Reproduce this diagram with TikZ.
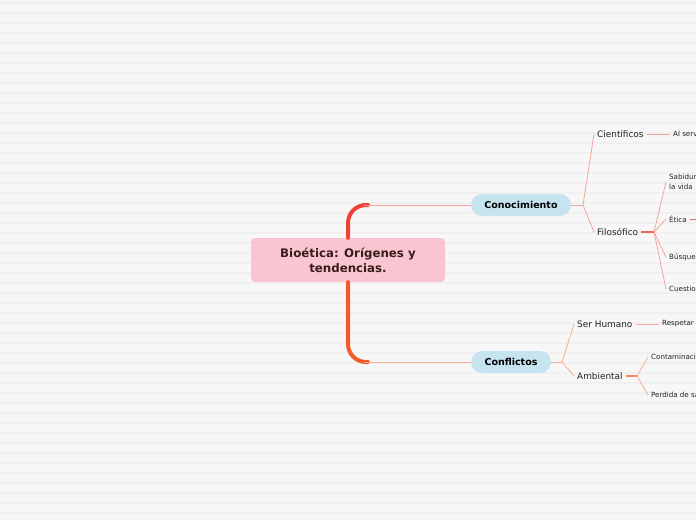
\documentclass[tikz,border=0pt]{standalone}
\usepackage{fontspec}
\setmainfont{DejaVu Sans}
\definecolor{bg}{HTML}{F7F7F7}
\definecolor{stripe}{HTML}{F0F0F0}
\definecolor{rootfill}{HTML}{F9C5D0}
\definecolor{roottext}{HTML}{3A1C1C}
\definecolor{pillfill}{HTML}{C5E4F0}
\definecolor{trunktop}{HTML}{EF4136}
\definecolor{trunkbot}{HTML}{F25A2B}
\definecolor{conline}{HTML}{F6A39C}
\definecolor{confline}{HTML}{F9AE8F}
\definecolor{filstub}{HTML}{F0655E}
\definecolor{ambstub}{HTML}{F58A5E}
\definecolor{txt}{HTML}{222222}
\tikzset{
  rootbox/.style={fill=rootfill, rounded corners=4pt, minimum width=194pt, minimum height=44pt,
    align=center, text=roottext, font=\fontsize{11.8}{15}\selectfont\bfseries, inner sep=0pt},
  pill/.style={fill=pillfill, rounded corners=11pt, minimum height=22pt, inner sep=0pt,
    text=black, font=\fontsize{9.5}{11}\selectfont\bfseries},
  lvtwo/.style={anchor=west, inner xsep=3pt, inner ysep=0pt, text=txt, font=\fontsize{8.9}{10}\selectfont},
  lvthree/.style={anchor=west, inner xsep=3pt, inner ysep=0pt, text=txt, align=left, font=\fontsize{7.1}{10}\selectfont},
  trunk/.style={line width=4pt, rounded corners=18pt, line cap=round},
  conedge/.style={draw=conline, line width=0.8pt},
  confedge/.style={draw=confline, line width=0.8pt},
}
\begin{document}
\begin{tikzpicture}[x=1pt,y=-1pt]
\useasboundingbox (0,0) rectangle (696,520);
\clip (0,0) rectangle (696,520);
\fill[bg] (0,0) rectangle (696,520);
\foreach \yy in {3,13,...,523} {\draw[stripe, line width=1.2pt] (0,\yy) -- (696,\yy);}

% nodes
\node[rootbox] (root) at (348,260) {Bioética: Orígenes y\\tendencias.};
\node[pill, minimum width=100pt] (con) at (521,205) {Conocimiento};
\node[pill, minimum width=80pt] (conf) at (511,362) {Conflictos};

\node[lvtwo] (cie) at (594,134) {Científicos};
\node[lvtwo] (fil) at (594,232) {Filosófico};
\node[lvtwo] (ser) at (574,324) {Ser Humano};
\node[lvtwo] (amb) at (574,376) {Ambiental};

\node[lvthree] (alserv) at (670,134) {Al servicio};
\node[lvthree] (sab) at (666,182) {Sabiduría\\la vida};
\node[lvthree] (etica) at (666,219) {Ética};
\node[lvthree] (bus) at (666,257) {Búsqueda};
\node[lvthree] (cues) at (666,289) {Cuestionamientos};
\node[lvthree] (resp) at (659,324) {Respetar};
\node[lvthree] (cont) at (648,357) {Contaminación};
\node[lvthree] (perd) at (648,395) {Perdida de salud};

% coordinates
\coordinate (c1) at (368,205);
\coordinate (c2) at (368,362);
\coordinate (c1b) at (364,205);
\coordinate (c2b) at (364,362);
\coordinate (f1) at (583,205);
\coordinate (f2) at (654,232);
\coordinate (f3) at (562,362);
\coordinate (f4) at (637,376);
\coordinate (eend) at (700,219);

% trunk
\draw[trunk, trunktop] (root.north) |- (c1);
\draw[trunk, trunkbot] (root.south) |- (c2);
\draw[conedge] (c1b) -- (con.west);
\draw[confedge] (c2b) -- (conf.west);

% Conocimiento branch
\draw[conedge] (con.east) -- (f1);
\draw[conedge] (f1) -- (cie.west);
\draw[conedge] (f1) -- (fil.west);
\draw[conedge] (cie.east) -- (alserv.west);
\draw[draw=filstub, line width=1.5pt] (fil.east) -- (f2);
\draw[conedge] (f2) -- (sab.west);
\draw[conedge] (f2) -- (etica.west);
\draw[conedge] (f2) -- (bus.west);
\draw[conedge] (f2) -- (cues.west);
\draw[draw=filstub, line width=0.8pt] (etica.east) -- (eend);

% Conflictos branch
\draw[confedge] (conf.east) -- (f3);
\draw[confedge] (f3) -- (ser.west);
\draw[confedge] (f3) -- (amb.west);
\draw[confedge] (ser.east) -- (resp.west);
\draw[draw=ambstub, line width=1.5pt] (amb.east) -- (f4);
\draw[confedge] (f4) -- (cont.west);
\draw[confedge] (f4) -- (perd.west);
\end{tikzpicture}
\end{document}
